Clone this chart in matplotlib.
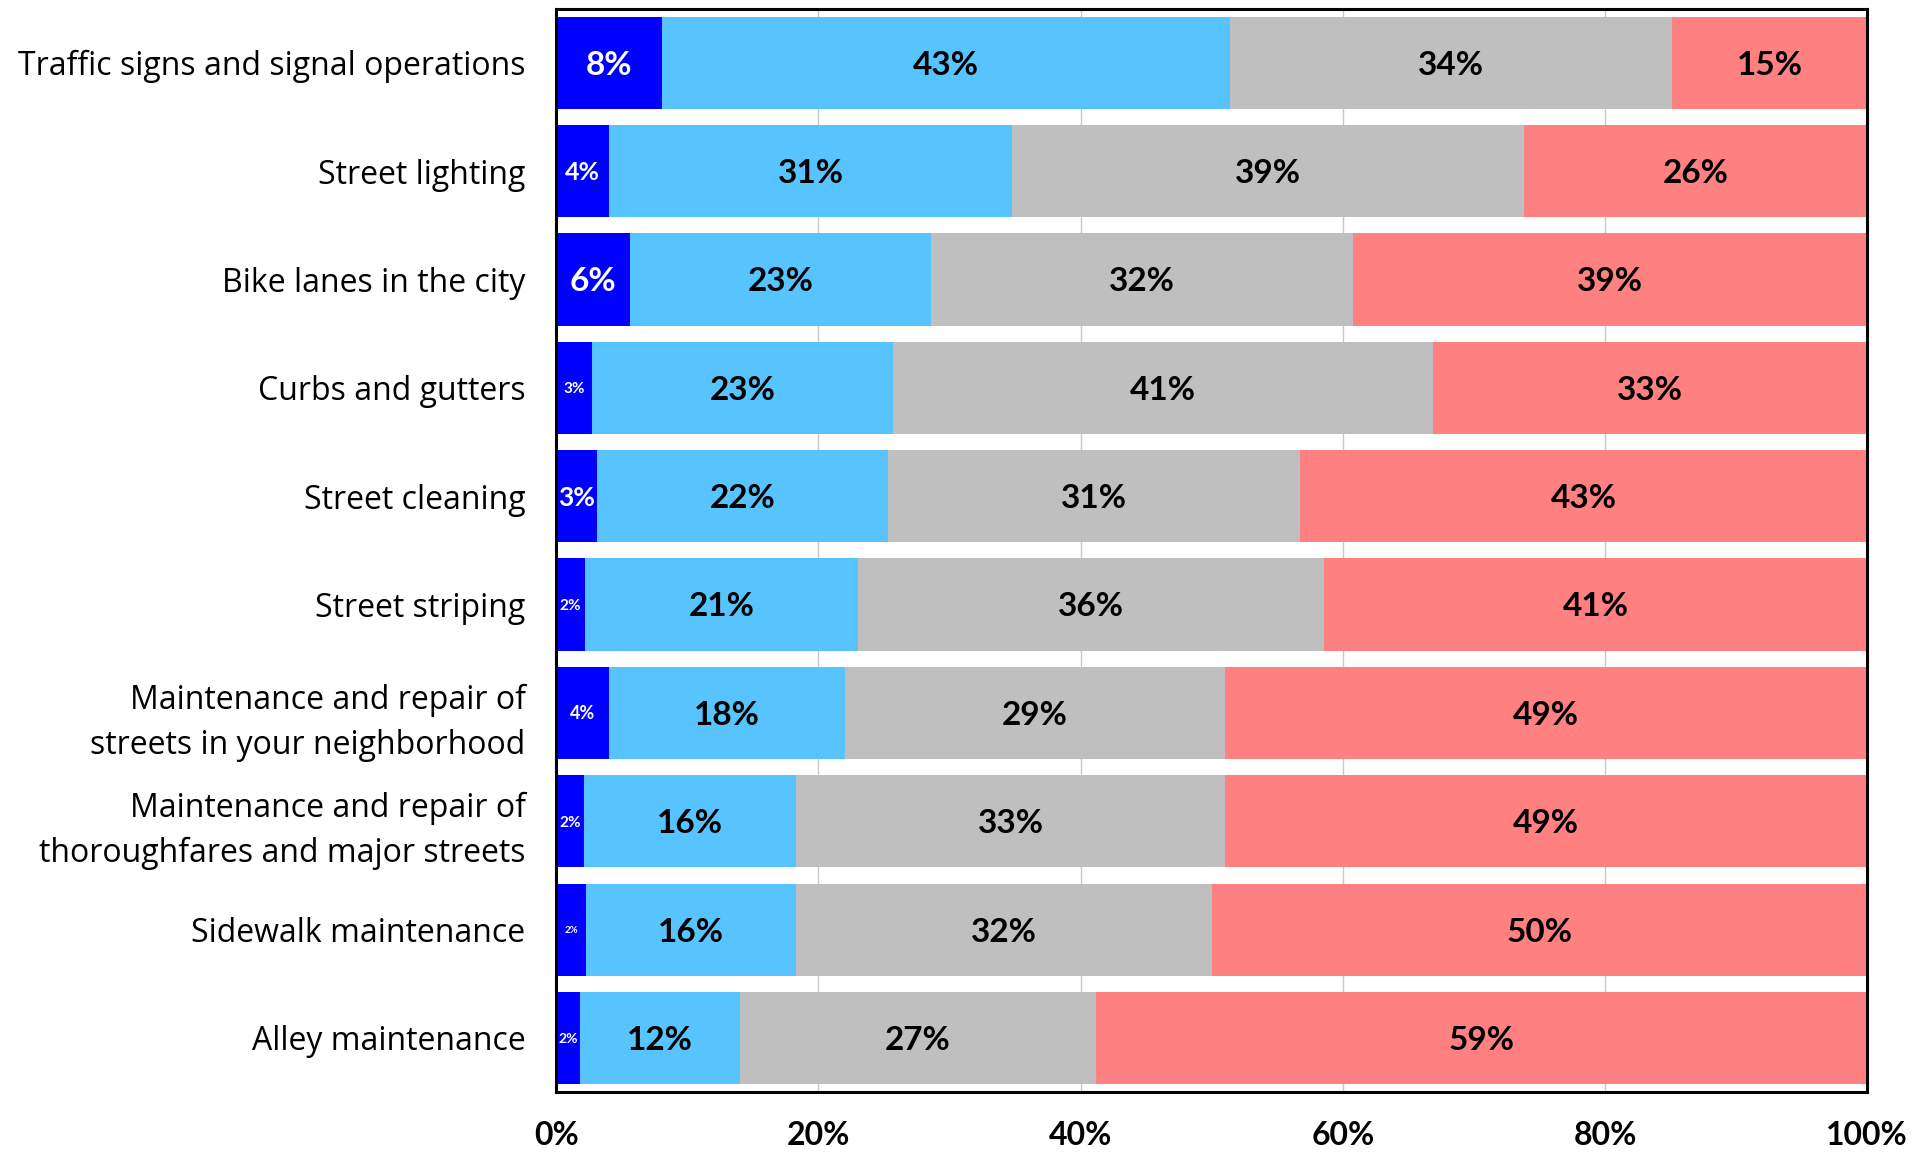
import matplotlib
matplotlib.use("Agg")
import matplotlib.pyplot as plt
import numpy as np

plt.rcParams.update({
    "font.family": ["Lato", "DejaVu Sans"],
})

# ── survey data (top row first) ──────────────────────────────────────────────
categories = [
    "Traffic signs and signal operations",
    "Street lighting",
    "Bike lanes in the city",
    "Curbs and gutters",
    "Street cleaning",
    "Street striping",
    "Maintenance and repair of\nstreets in your neighborhood",
    "Maintenance and repair of\nthoroughfares and major streets",
    "Sidewalk maintenance",
    "Alley maintenance",
]
very_satisfied = [8.1, 4.0, 5.6, 2.7, 3.1, 2.2, 4.0, 2.1, 2.3, 1.8]
satisfied      = [43.3, 30.8, 23.0, 23.0, 22.2, 20.8, 18.0, 16.2, 16.0, 12.2]
dissatisfied   = [33.7, 39.0, 32.2, 41.2, 31.4, 35.6, 29.0, 32.7, 31.7, 27.2]
very_dissat    = [14.9, 26.2, 39.2, 33.1, 43.3, 41.4, 49.0, 49.0, 50.0, 58.8]
x_ticks = [0, 20, 40, 60, 80, 100]

# label sizes for the narrow first segment
first_seg_fontsize = [24, 18, 24, 11, 19, 11, 13, 11, 7, 10]

colors = ["#0000FF", "#57C4FF", "#BFBFBF", "#FF8080"]
text_colors = ["white", "black", "black", "black"]
CAP = 0.7165  # Lato cap height / em

fig = plt.figure(figsize=(19.31, 11.52), dpi=100)
ax = fig.add_axes([0.288, 0.052, 0.679, 0.9405])

series = [very_satisfied, satisfied, dissatisfied, very_dissat]
y = np.arange(len(categories))
left = np.zeros(len(categories))
for k, vals in enumerate(series):
    vals = np.asarray(vals)
    ax.barh(y, vals, left=left, height=0.85, color=colors[k], zorder=2)
    for i, v in enumerate(vals):
        fs = first_seg_fontsize[i] if k == 0 else 24
        # put the baseline half a cap-height below the bar centre
        ax.annotate(f"{v:.0f}%", (left[i] + v / 2, y[i]),
                    xytext=(0, -CAP * fs / 2), textcoords="offset points",
                    ha="center", va="baseline", fontsize=fs,
                    fontweight="bold", color=text_colors[k], zorder=3)
    left += vals

ax.set_xlim(0, 100)
ax.set_ylim(len(categories) - 0.5, -0.5)
ax.set_xticks(x_ticks)
ax.set_xticklabels([f"{t}%" for t in x_ticks], fontsize=23, fontweight="bold")
ax.set_yticks(y)
ax.set_yticklabels(categories, fontsize=23, linespacing=1.47,
                   family=["Open Sans", "DejaVu Sans"])
ax.tick_params(axis="both", length=0)
ax.tick_params(axis="x", pad=21)
ax.tick_params(axis="y", pad=22)

ax.xaxis.grid(True, color="#C8C8C8", linewidth=1.0, zorder=0)
ax.set_axisbelow(True)
for s in ax.spines.values():
    s.set_linewidth(2.2)
    s.set_color("black")

fig.savefig("out.png", dpi=100)
